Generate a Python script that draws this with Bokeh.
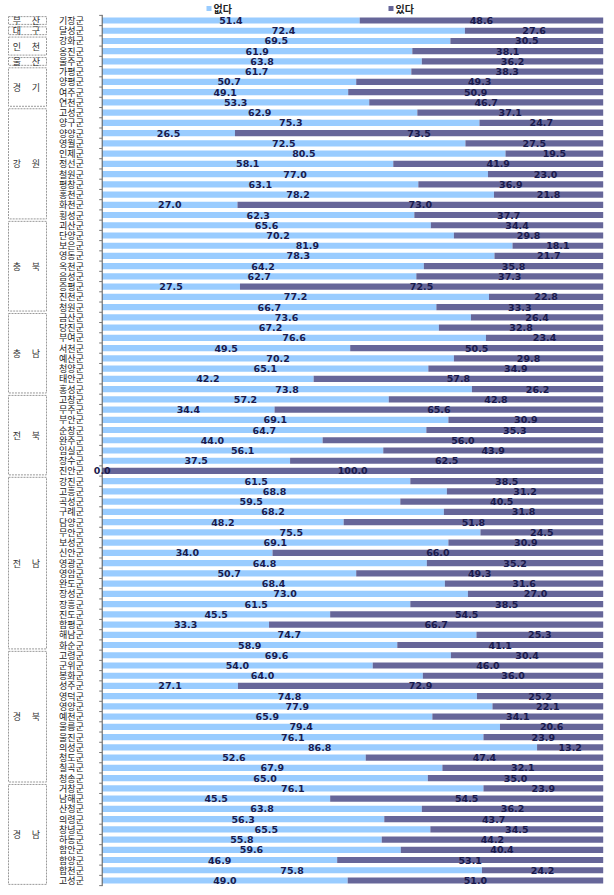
from bokeh.plotting import figure
from bokeh.models import Range1d, ColumnDataSource
from bokeh.core.properties import value
from bokeh.embed import file_html
from bokeh.resources import INLINE

# ---------------- data ----------------
legend_labels = ["없다", "있다"]
colors = ["#99CCFF", "#666699"]

counties = [
    "기장군",
    "달성군",
    "강화군", "옹진군",
    "울주군",
    "가평군", "양평군", "여주군", "연천군",
    "고성군", "양구군", "양양군", "영월군", "인제군", "정선군", "철원군", "평창군", "홍천군", "화천군", "횡성군",
    "괴산군", "단양군", "보은군", "영동군", "옥천군", "음성군", "증평군", "진천군", "청원군",
    "금산군", "당진군", "부여군", "서천군", "예산군", "청양군", "태안군", "홍성군",
    "고창군", "무주군", "부안군", "순창군", "완주군", "임실군", "장수군", "진안군",
    "강진군", "고흥군", "곡성군", "구례군", "담양군", "무안군", "보성군", "신안군", "영광군", "영암군",
    "완도군", "장성군", "장흥군", "진도군", "함평군", "해남군", "화순군",
    "고령군", "군위군", "봉화군", "성주군", "영덕군", "영양군", "예천군", "울릉군", "울진군", "의성군",
    "청도군", "칠곡군", "청송군",
    "거창군", "남해군", "산청군", "의령군", "창녕군", "하동군", "함안군", "함양군", "합천군", "고성군",
]

provinces = (
    ["부산"] * 1 + ["대구"] * 1 + ["인천"] * 2 + ["울산"] * 1 + ["경기"] * 4 +
    ["강원"] * 11 + ["충북"] * 9 + ["충남"] * 8 + ["전북"] * 8 + ["전남"] * 17 +
    ["경북"] * 13 + ["경남"] * 10
)

none_vals = [  # 없다
    51.4,
    72.4,
    69.5, 61.9,
    63.8,
    61.7, 50.7, 49.1, 53.3,
    62.9, 75.3, 26.5, 72.5, 80.5, 58.1, 77.0, 63.1, 78.2, 27.0, 62.3,
    65.6, 70.2, 81.9, 78.3, 64.2, 62.7, 27.5, 77.2, 66.7,
    73.6, 67.2, 76.6, 49.5, 70.2, 65.1, 42.2, 73.8,
    57.2, 34.4, 69.1, 64.7, 44.0, 56.1, 37.5, 0.0,
    61.5, 68.8, 59.5, 68.2, 48.2, 75.5, 69.1, 34.0, 64.8, 50.7,
    68.4, 73.0, 61.5, 45.5, 33.3, 74.7, 58.9,
    69.6, 54.0, 64.0, 27.1, 74.8, 77.9, 65.9, 79.4, 76.1, 86.8,
    52.6, 67.9, 65.0,
    76.1, 45.5, 63.8, 56.3, 65.5, 55.8, 59.6, 46.9, 75.8, 49.0,
]

some_vals = [  # 있다
    48.6,
    27.6,
    30.5, 38.1,
    36.2,
    38.3, 49.3, 50.9, 46.7,
    37.1, 24.7, 73.5, 27.5, 19.5, 41.9, 23.0, 36.9, 21.8, 73.0, 37.7,
    34.4, 29.8, 18.1, 21.7, 35.8, 37.3, 72.5, 22.8, 33.3,
    26.4, 32.8, 23.4, 50.5, 29.8, 34.9, 57.8, 26.2,
    42.8, 65.6, 30.9, 35.3, 56.0, 43.9, 62.5, 100.0,
    38.5, 31.2, 40.5, 31.8, 51.8, 24.5, 30.9, 66.0, 35.2, 49.3,
    31.6, 27.0, 38.5, 54.5, 66.7, 25.3, 41.1,
    30.4, 46.0, 36.0, 72.9, 25.2, 22.1, 34.1, 20.6, 23.9, 13.2,
    47.4, 32.1, 35.0,
    23.9, 54.5, 36.2, 43.7, 34.5, 44.2, 40.4, 53.1, 24.2, 51.0,
]

# ---------------- layout ----------------
W, H = 614, 895
X0_PX, X100_PX = 101.7, 602.7
PXU = (X100_PX - X0_PX) / 100.0
Y0_PX, PITCH = 20.0, 10.238


def px_x(px):
    return (px - X0_PX) / PXU


def px_y(py):
    return (py - Y0_PX) / PITCH


n = len(counties)
rows = list(range(n))

p = figure(width=W, height=H, output_backend="svg", toolbar_location=None,
           x_axis_location=None, y_axis_location=None,
           x_range=Range1d(px_x(0), px_x(W)),
           y_range=Range1d(px_y(H), px_y(0)),
           min_border=0)
p.grid.visible = False
p.outline_line_color = None
p.background_fill_color = "white"

src = ColumnDataSource(dict(
    y=rows,
    none_end=none_vals,
    some_end=[a + b for a, b in zip(none_vals, some_vals)],
    zero=[0] * n,
    none_mid=[v / 2 for v in none_vals],
    some_mid=[a + b / 2 for a, b in zip(none_vals, some_vals)],
    none_lbl=[f"{v:.1f}" for v in none_vals],
    some_lbl=[f"{v:.1f}" for v in some_vals],
    county=counties,
    county_x=[px_x(71)] * n,
))

bh = 6.2 / PITCH
p.hbar(y="y", left="zero", right="none_end", height=bh, source=src,
       fill_color=colors[0], line_color=None)
p.hbar(y="y", left="none_end", right="some_end", height=bh, source=src,
       fill_color=colors[1], line_color=None)

# axis line and ticks
p.segment(x0=[0], y0=[-0.55], x1=[0], y1=[n - 0.45], line_color="#555555", line_width=1)
tick_y = [i - 0.5 for i in range(n + 1)]
p.segment(x0=[px_x(X0_PX - 3)] * len(tick_y), y0=tick_y, x1=[0] * len(tick_y), y1=tick_y,
          line_color="#777777", line_width=1)

lbl_kw = dict(text_font=value("DejaVu Sans"), text_font_style="bold",
              text_font_size="9.5px", text_color="#1B1B4D",
              text_align="center", text_baseline="middle")
p.text(x="none_mid", y="y", text="none_lbl", source=src, **lbl_kw)
p.text(x="some_mid", y="y", text="some_lbl", source=src, **lbl_kw)

# county labels
p.text(x="county_x", y="y", text="county", source=src,
       text_font=value("Noto Sans CJK KR"), text_font_size="9px",
       text_color="#222222", text_align="center", text_baseline="middle")

# province boxes
groups = []
start = 0
for i in range(1, n + 1):
    if i == n or provinces[i] != provinces[start]:
        groups.append((provinces[start], start, i - 1))
        start = i

bx_l, bx_r = px_x(8), px_x(46)
gap = 0.12
g_x, g_y, g_w, g_h = [], [], [], []
c_x, c_y, c_t = [], [], []
for name, a, b in groups:
    top = a - 0.5 + gap
    bot = b + 0.5 - gap
    g_x.append((bx_l + bx_r) / 2)
    g_y.append((top + bot) / 2)
    g_w.append(bx_r - bx_l)
    g_h.append(bot - top)
    c_x += [px_x(16.5), px_x(35.5)]
    c_y += [(a + b) / 2] * 2
    c_t += [name[0], name[1]]

p.rect(x=g_x, y=g_y, width=g_w, height=g_h, fill_color=None,
       line_color="#999999", line_dash="2 1", line_width=1)
p.text(x=c_x, y=c_y, text=c_t, text_font=value("Noto Sans CJK KR"),
       text_font_size="9px", text_color="#333333",
       text_align="center", text_baseline="middle")

# legend
leg_y = px_y(8)
leg_sq_x = [px_x(208.5), px_x(390.5)]
p.rect(x=leg_sq_x, y=[leg_y] * 2, width=5 / PXU, height=5 / PITCH,
       fill_color=colors, line_color=None)
p.text(x=[px_x(213), px_x(395)], y=[leg_y] * 2, text=legend_labels,
       text_font=value("Noto Sans CJK KR"), text_font_size="10px",
       text_font_style="bold", text_color="#222222",
       text_align="left", text_baseline="middle")

open("out.html", "w").write(file_html(p, INLINE))
